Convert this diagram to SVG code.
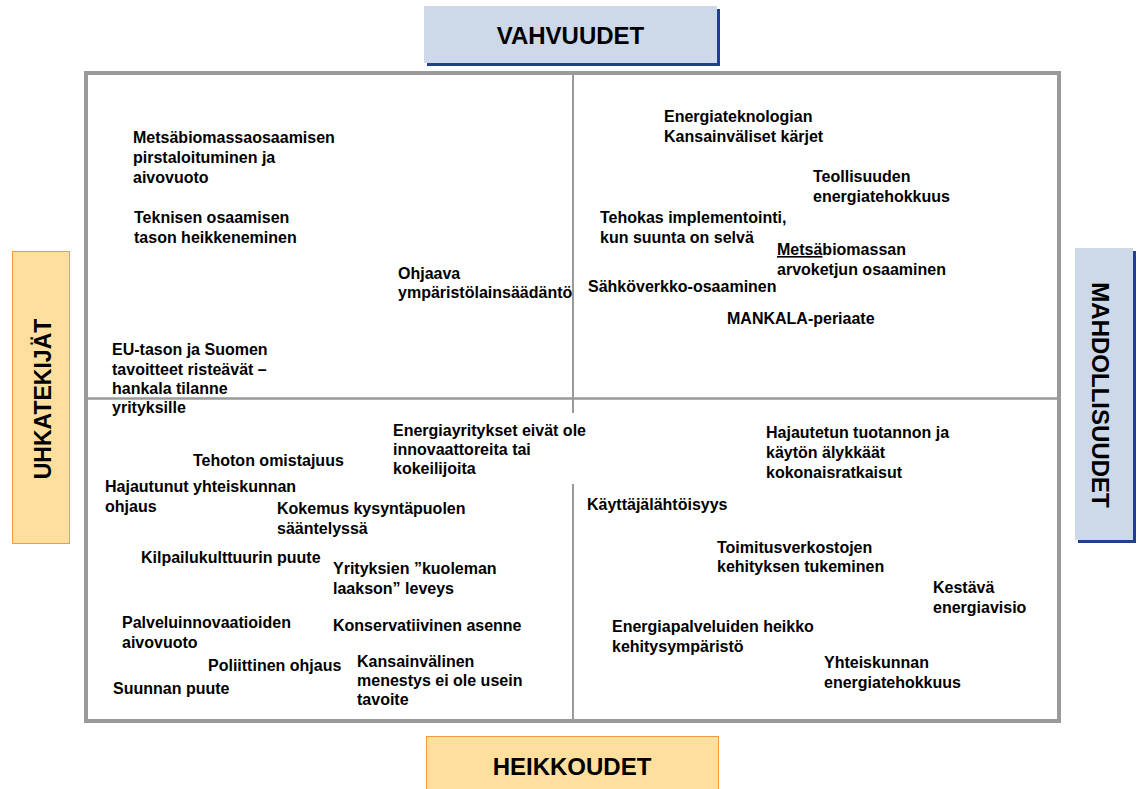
<svg xmlns="http://www.w3.org/2000/svg" width="1140" height="789" viewBox="0 0 1140 789">
<style>
.t{font-family:"Liberation Sans",Arial,sans-serif;font-weight:bold;font-size:16px;fill:#000}
.lab{font-family:"Liberation Sans",Arial,sans-serif;font-weight:bold;font-size:24px;fill:#000;text-anchor:middle}
.blue{fill:#CDD9E9}
.shadow{fill:#1F3F8F}
.orange{fill:#FFDF9E;stroke:#F79A3A;stroke-width:1}
.grid{stroke:#9a9a9a;fill:none}
</style>
<rect width="1140" height="789" fill="#fff"/>
<g id="frame">
<rect class="grid" x="86" y="73" width="973" height="648" stroke-width="4"/>
</g>
<g id="connectors">
<line class="grid" x1="88" y1="398.5" x2="1057" y2="398.5" stroke-width="2.5"/>
<line class="grid" x1="573" y1="75" x2="573" y2="413" stroke-width="2"/>
<line class="grid" x1="573" y1="484" x2="573" y2="719" stroke-width="2"/>
</g>
<g id="vahvuudet">
<rect class="shadow" x="427" y="9" width="293" height="57"/>
<rect class="blue" x="424" y="6" width="293" height="57"/>
<text class="lab" x="570.5" y="44">VAHVUUDET</text>
</g>
<g id="heikkoudet">
<rect class="orange" x="426.5" y="736.5" width="292" height="60"/>
<text class="lab" x="572" y="775">HEIKKOUDET</text>
</g>
<g id="uhkatekijat">
<rect class="orange" x="12.5" y="251.5" width="57" height="292"/>
<text class="lab" transform="translate(42,399) rotate(-90)" x="0" y="8.5" style="font-size:23px">UHKATEKIJÄT</text>
</g>
<g id="mahdollisuudet">
<rect class="shadow" x="1078" y="251" width="58" height="292"/>
<rect class="blue" x="1075" y="248" width="58" height="292"/>
<text class="lab" transform="translate(1100,395) rotate(90)" x="0" y="8.5">MAHDOLLISUUDET</text>
</g>
<g id="n1"><text class="t" x="133" y="143">Metsäbiomassaosaamisen</text><text class="t" x="133" y="163">pirstaloituminen ja</text><text class="t" x="133" y="183">aivovuoto</text></g>
<g id="n2"><text class="t" x="134" y="223">Teknisen osaamisen</text><text class="t" x="134" y="243">tason heikkeneminen</text></g>
<g id="n3"><text class="t" x="398" y="279">Ohjaava</text><text class="t" x="398" y="298">ympäristölainsäädäntö</text></g>
<g id="n4"><text class="t" x="112" y="355">EU-tason ja Suomen</text><text class="t" x="112" y="374.5">tavoitteet risteävät –</text><text class="t" x="112" y="394">hankala tilanne</text><text class="t" x="112" y="413">yrityksille</text></g>
<g id="n5"><text class="t" x="664" y="122">Energiateknologian</text><text class="t" x="664" y="142">Kansainväliset kärjet</text></g>
<g id="n6"><text class="t" x="813" y="182">Teollisuuden</text><text class="t" x="813" y="202">energiatehokkuus</text></g>
<g id="n7"><text class="t" x="600" y="223">Tehokas implementointi,</text><text class="t" x="600" y="243">kun suunta on selvä</text></g>
<g id="n8"><text class="t" x="777" y="255"><tspan text-decoration="underline">Metsä</tspan>biomassan</text><text class="t" x="777" y="275">arvoketjun osaaminen</text></g>
<g id="n9"><text class="t" x="588" y="292">Sähköverkko-osaaminen</text></g>
<g id="n10"><text class="t" x="727" y="324">MANKALA-periaate</text></g>
<g id="n11"><rect x="390" y="414" width="200" height="69" fill="#fff"/><text class="t" x="393" y="436">Energiayritykset eivät ole</text><text class="t" x="393" y="455">innovaattoreita tai</text><text class="t" x="393" y="474">kokeilijoita</text></g>
<g id="n12"><text class="t" x="193" y="466">Tehoton omistajuus</text></g>
<g id="n13"><text class="t" x="105" y="492">Hajautunut yhteiskunnan</text><text class="t" x="105" y="512">ohjaus</text></g>
<g id="n14"><text class="t" x="277" y="514">Kokemus kysyntäpuolen</text><text class="t" x="277" y="534">sääntelyssä</text></g>
<g id="n15"><text class="t" x="141" y="562.5">Kilpailukulttuurin puute</text></g>
<g id="n16"><text class="t" x="333" y="574">Yrityksien ”kuoleman</text><text class="t" x="333" y="594">laakson” leveys</text></g>
<g id="n17"><text class="t" x="122" y="628">Palveluinnovaatioiden</text><text class="t" x="122" y="648">aivovuoto</text></g>
<g id="n18"><text class="t" x="333" y="631">Konservatiivinen asenne</text></g>
<g id="n19"><text class="t" x="208" y="671">Poliittinen ohjaus</text></g>
<g id="n20"><text class="t" x="357" y="667">Kansainvälinen</text><text class="t" x="357" y="686">menestys ei ole usein</text><text class="t" x="357" y="705">tavoite</text></g>
<g id="n21"><text class="t" x="113" y="694">Suunnan puute</text></g>
<g id="n22"><text class="t" x="766" y="438">Hajautetun tuotannon ja</text><text class="t" x="766" y="458">käytön älykkäät</text><text class="t" x="766" y="478">kokonaisratkaisut</text></g>
<g id="n23"><text class="t" x="587" y="510">Käyttäjälähtöisyys</text></g>
<g id="n24"><text class="t" x="717" y="553">Toimitusverkostojen</text><text class="t" x="717" y="572">kehityksen tukeminen</text></g>
<g id="n25"><text class="t" x="933" y="593">Kestävä</text><text class="t" x="933" y="613">energiavisio</text></g>
<g id="n26"><text class="t" x="612" y="632">Energiapalveluiden heikko</text><text class="t" x="612" y="652">kehitysympäristö</text></g>
<g id="n27"><text class="t" x="824" y="668">Yhteiskunnan</text><text class="t" x="824" y="688">energiatehokkuus</text></g>
</svg>
